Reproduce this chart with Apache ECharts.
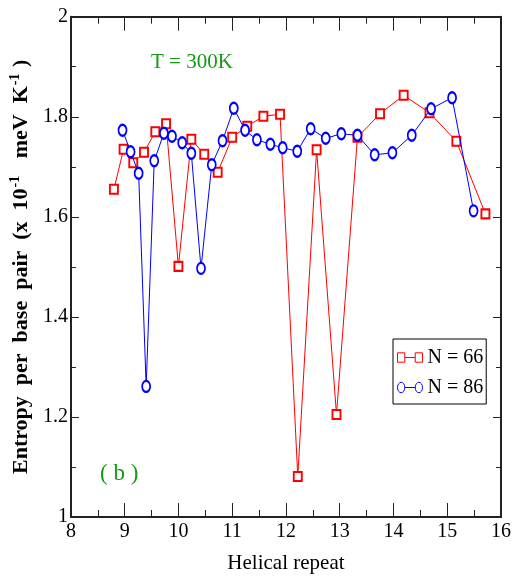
<!DOCTYPE html>
<html>
<head>
<meta charset="utf-8">
<script src="https://cdn.jsdelivr.net/npm/echarts@6/dist/echarts.min.js"></script>
<style>
  html, body { margin: 0; padding: 0; background: #fff; }
  #main { width: 514px; height: 579px; }
</style>
</head>
<body>
<div id="main"></div>
<script>
var chart = echarts.init(document.getElementById('main'));

// N = 66 (red squares)
var repeat66 = [8.8, 8.98, 9.16, 9.36, 9.57, 9.77, 10.0, 10.24, 10.48, 10.73, 11.0, 11.28, 11.58, 11.89, 12.22, 12.57, 12.94, 13.33, 13.75, 14.19, 14.67, 15.17, 15.71];
var entropy66 = [1.655, 1.735, 1.708, 1.729, 1.770, 1.786, 1.501, 1.755, 1.725, 1.689, 1.759, 1.781, 1.801, 1.805, 1.081, 1.734, 1.205, 1.759, 1.806, 1.843, 1.808, 1.751, 1.606];

// N = 86 (blue circles)
var repeat86 = [8.96, 9.11, 9.26, 9.40, 9.55, 9.73, 9.88, 10.07, 10.24, 10.42, 10.62, 10.82, 11.03, 11.24, 11.46, 11.71, 11.94, 12.21, 12.46, 12.74, 13.03, 13.33, 13.65, 13.98, 14.34, 14.70, 15.09, 15.49];
var entropy86 = [1.773, 1.730, 1.687, 1.261, 1.712, 1.767, 1.761, 1.748, 1.727, 1.497, 1.704, 1.752, 1.817, 1.773, 1.754, 1.745, 1.738, 1.731, 1.776, 1.757, 1.766, 1.763, 1.724, 1.728, 1.763, 1.816, 1.838, 1.612];

var seriesNames = ['N = 66', 'N = 86'];

function pairs(xs, ys) {
	return xs.map(function(x, i) { return [x, ys[i]]; });
}

var serif = 'Liberation Serif, Times New Roman, serif';
var axisLine = { show: true, onZero: false, lineStyle: { color: '#222', width: 2 } };

function xAx(pos, showLabel) {
	return {
		type: 'value', position: pos, min: 8, max: 16, interval: 1,
		axisLine: axisLine,
		axisTick: { show: true, inside: true, length: 14, lineStyle: { color: '#222', width: 1 } },
		minorTick: { show: true, splitNumber: 2, length: 7, lineStyle: { color: '#222', width: 1 } },
		splitLine: { show: false },
		axisLabel: { show: showLabel, color: '#000', fontFamily: serif, fontSize: 20, margin: 5 },
		name: showLabel ? 'Helical repeat' : '',
		nameLocation: 'middle', nameGap: 36,
		nameTextStyle: { color: '#000', fontFamily: serif, fontSize: 21 }
	};
}

function yAx(pos, showLabel) {
	return {
		type: 'value', position: pos, min: 1, max: 2, interval: 0.2,
		axisLine: axisLine,
		axisTick: { show: true, inside: true, length: 8, lineStyle: { color: '#222', width: 1 } },
		minorTick: { show: true, splitNumber: 2, length: 5, lineStyle: { color: '#222', width: 1 } },
		splitLine: { show: false },
		axisLabel: {
			show: showLabel, color: '#000', fontFamily: serif, fontSize: 20, margin: 3,
			formatter: function(v) { return +v.toFixed(1) + ''; }
		},
		name: showLabel ? '{t|Entropy  per  base  pair  (x  10}{s|-1}{t|   meV  K}{s|-1}{t| )}' : '',
		nameLocation: 'middle', nameGap: 33,
		nameTextStyle: {
			rich: {
				t: { fontFamily: serif, fontSize: 22, fontWeight: 'bold', color: '#000', lineHeight: 26 },
				s: { fontFamily: serif, fontSize: 14, fontWeight: 'bold', color: '#000', lineHeight: 26, verticalAlign: 'top', padding: [0, 1, 10, 1] }
			}
		}
	};
}

var option = {
	animation: false,
	backgroundColor: '#fff',
	grid: { left: 64.5, right: 11.5, top: 16.7, bottom: 59.7 },
	xAxis: [xAx('bottom', true), xAx('top', false)],
	yAxis: [yAx('left', true), yAx('right', false)],
	legend: {
		left: 393, top: 339,
		orient: 'vertical',
		backgroundColor: '#fff',
		borderColor: '#000', borderWidth: 1, borderRadius: 0,
		padding: [8, 3, 6, 4],
		itemGap: 9,
		itemWidth: 25, itemHeight: 11,
		textStyle: { color: '#000', fontFamily: serif, fontSize: 20, lineHeight: 21 },
		itemStyle: { color: 'transparent', borderWidth: 1 },
		lineStyle: { width: 1 },
		data: [
			{ name: seriesNames[0], icon: 'path://M0.5,1 h7 v9 h-7 Z M17.5,1 h7 v9 h-7 Z M7.5,5.5 h10', itemStyle: { color: 'transparent', borderColor: '#ff0000' } },
			{ name: seriesNames[1], icon: 'path://M0.5,5.5 a3.5,5 0 1,0 7,0 a3.5,5 0 1,0 -7,0 M17.5,5.5 a3.5,5 0 1,0 7,0 a3.5,5 0 1,0 -7,0 M7.5,5.5 h10', itemStyle: { color: 'transparent', borderColor: '#0000ff' } }
		]
	},
	graphic: [
		{ type: 'text', left: 151, top: 52, style: { text: 'T = 300K', fill: '#159a15', font: '21px ' + serif, align: 'center', verticalAlign: 'middle' } },
		{ type: 'text', left: 100, top: 462, style: { text: '( b )', fill: '#159a15', font: '23px ' + serif, align: 'center', verticalAlign: 'middle' } }
	],
	series: [
		{
			name: seriesNames[0], type: 'line',
			data: pairs(repeat66, entropy66),
			symbol: 'emptyRect', symbolSize: [8, 9],
			color: '#ff0000',
			lineStyle: { width: 1, color: '#ff0000' },
			itemStyle: { color: '#ff0000', borderWidth: 1 },
			z: 3
		},
		{
			name: seriesNames[1], type: 'line',
			data: pairs(repeat86, entropy86),
			symbol: 'emptyCircle', symbolSize: [8, 11],
			color: '#0000ff',
			lineStyle: { width: 1, color: '#0000ff' },
			itemStyle: { color: '#0000ff', borderWidth: 1 },
			z: 4
		}
	]
};
chart.setOption(option);
</script>
</body>
</html>
